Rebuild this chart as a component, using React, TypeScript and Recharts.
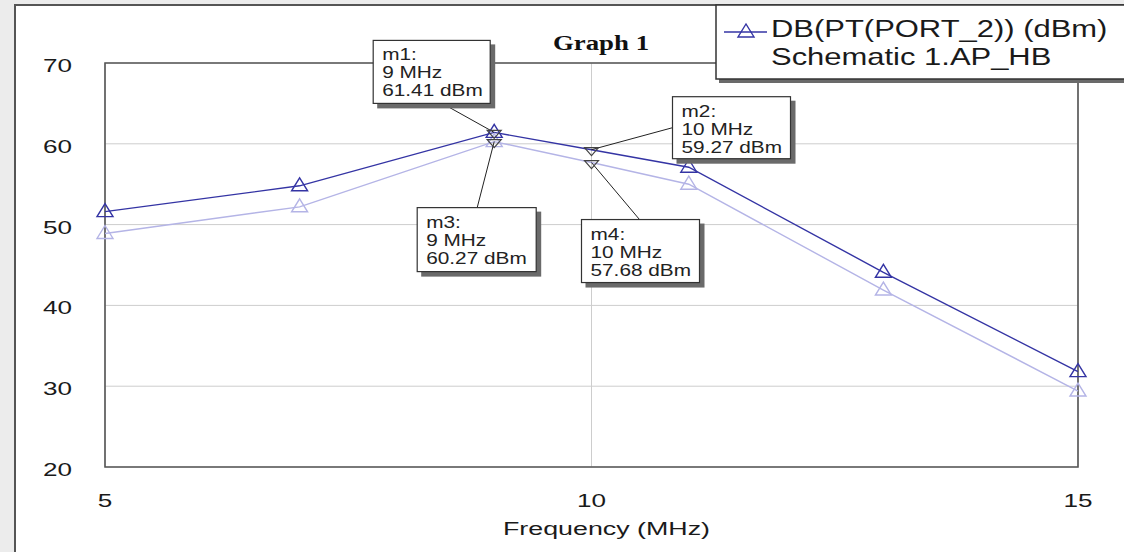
import React from 'react';
import {
  LineChart,
  Line,
  XAxis,
  YAxis,
  CartesianGrid,
  ReferenceArea,
  ReferenceDot,
} from 'recharts';

// frequency points (MHz) and the two traces of DB(PT(PORT_2)) in dBm
const FREQS = [5, 7, 9, 10, 11, 13, 15];
const TRACE_A = [51.6, 54.8, 61.41, 59.27, 57.1, 44.1, 31.8];
const TRACE_B = [48.9, 52.2, 60.27, 57.68, 55.0, 41.9, 29.4];
// frequencies where the trace shows no symbol
const NO_SYMBOL = [10];

const X_TICKS = [5, 10, 15];
const Y_TICKS = [20, 30, 40, 50, 60, 70];

const MARKER_NAMES = ['m1', 'm2', 'm3', 'm4'];
const MARKER_FREQS = [9, 10, 9, 10];
const MARKER_VALUES = [61.41, 59.27, 60.27, 57.68];

// box offsets from the marked point, and where the leader leaves the box
const MARKER_BOXES = [
  { dx: -121, dy: -92, w: 117, h: 63, ax: 69, ay: 63 },
  { dx: 81, dy: -53, w: 118, h: 62, ax: 0, ay: 31 },
  { dx: -77, dy: 66, w: 119, h: 64, ax: 60, ay: 0 },
  { dx: -10, dy: 57, w: 118, h: 63, ax: 58, ay: 0 },
];

const data = FREQS.map((f, i) => ({ freq: f, a: TRACE_A[i], b: TRACE_B[i] }));

const DARK = '#3434a4';
const LIGHT = '#b4b4e6';
const SANS = '"Liberation Sans", Arial, sans-serif';
const W = 1124;
const H = 552;

function triangleUp(cx: number, cy: number, color: string, key?: any) {
  return (
    <polygon
      key={key}
      points={`${cx - 8},${cy + 5} ${cx + 8},${cy + 5} ${cx},${cy - 8}`}
      fill="none"
      stroke={color}
      strokeWidth={1.4}
    />
  );
}

const makeDot = (color: string) => (props: any) => {
  const { cx, cy, index, payload } = props;
  if (NO_SYMBOL.includes(payload.freq)) return <g key={index} />;
  return triangleUp(cx, cy, color, index);
};

function YTick(props: any) {
  const { x, y, payload } = props;
  return (
    <text
      x={0}
      y={0}
      transform={`translate(${x},${y + 9}) scale(1.45,1)`}
      textAnchor="end"
      fontSize={18}
      fontFamily={SANS}
      fill="#1a1a1a"
    >
      {payload.value}
    </text>
  );
}

function XTick(props: any) {
  const { x, y, payload } = props;
  return (
    <text
      x={0}
      y={0}
      transform={`translate(${x},${y}) scale(1.45,1)`}
      textAnchor="middle"
      fontSize={18}
      fontFamily={SANS}
      fill="#1a1a1a"
    >
      {payload.value}
    </text>
  );
}

function XLabel(props: any) {
  const { viewBox } = props;
  const cx = viewBox.x + viewBox.width / 2 + 15;
  return (
    <text
      x={0}
      y={0}
      transform={`translate(${cx},${viewBox.y + 68}) scale(1.45,1)`}
      textAnchor="middle"
      fontSize={18.5}
      fontFamily={SANS}
      fill="#1a1a1a"
    >
      Frequency (MHz)
    </text>
  );
}

const makeMarker = (i: number) => (props: any) => {
  const { cx, cy } = props;
  const box = MARKER_BOXES[i];
  const bx = cx + box.dx;
  const by = cy + box.dy;
  const lines = [
    `${MARKER_NAMES[i]}:`,
    `${MARKER_FREQS[i]} MHz`,
    `${MARKER_VALUES[i].toFixed(2)} dBm`,
  ];
  return (
    <g>
      <line x1={bx + box.ax} y1={by + box.ay} x2={cx} y2={cy} stroke="#222" strokeWidth={1} />
      <polygon
        points={`${cx - 7},${cy - 2} ${cx + 7},${cy - 2} ${cx},${cy + 6}`}
        fill="none"
        stroke="#444"
        strokeWidth={1.2}
      />
      <rect x={bx + 4} y={by + 4} width={box.w + 1} height={box.h + 1} fill="#6a6a6a" />
      <rect x={bx} y={by} width={box.w} height={box.h} fill="#fff" stroke="#333" strokeWidth={1.2} />
      {lines.map((t, k) => (
        <text
          key={k}
          x={0}
          y={0}
          transform={`translate(${bx + 9},${by + 20 + k * 18}) scale(1.3,1)`}
          fontSize={16}
          fontFamily={SANS}
          fill="#222"
        >
          {t}
        </text>
      ))}
    </g>
  );
};

function Overlay() {
  return (
    <svg
      width={W}
      height={H}
      style={{ position: 'absolute', left: 0, top: 0, pointerEvents: 'none' }}
    >
      <text
        x={0}
        y={0}
        transform="translate(601,50) scale(1.22,1)"
        textAnchor="middle"
        fontSize={22}
        fontWeight="bold"
        fontFamily='"Liberation Serif", "Times New Roman", serif'
        fill="#111"
      >
        Graph 1
      </text>
      <rect x={719} y={8} width={420} height={75} fill="#6a6a6a" />
      <rect x={716} y={5} width={420} height={74} fill="#fff" stroke="#333" strokeWidth={1.5} />
      <line x1={724} y1={32} x2={767} y2={32} stroke={DARK} strokeWidth={1.3} />
      {triangleUp(746, 32, DARK)}
      <text x={0} y={0} transform="translate(771,37) scale(1.29,1)" fontSize={24} fontFamily={SANS} fill="#1a1a1a">
        DB(PT(PORT_2)) (dBm)
      </text>
      <text x={0} y={0} transform="translate(771,65) scale(1.29,1)" fontSize={24} fontFamily={SANS} fill="#1a1a1a">
        Schematic 1.AP_HB
      </text>
    </svg>
  );
}

export default function App() {
  return (
    <div style={{ position: 'absolute', left: 0, top: 0, width: W, height: H, background: '#ececec', overflow: 'hidden' }}>
      <div
        style={{
          position: 'absolute',
          left: 14,
          top: 4,
          width: W,
          height: H,
          background: '#fff',
          borderLeft: '2px solid #555',
          borderTop: '2px solid #555',
        }}
      />
      <div style={{ position: 'absolute', left: 0, top: 0 }}>
        <LineChart width={W} height={H} data={data} margin={{ top: 63, right: 46, bottom: 55, left: 45 }}>
          <CartesianGrid stroke="#cdcdcd" strokeWidth={1} />
          <XAxis
            dataKey="freq"
            type="number"
            domain={[5, 15]}
            ticks={X_TICKS}
            axisLine={false}
            tickLine={false}
            tickSize={0}
            tickMargin={40}
            height={30}
            tick={<XTick />}
            label={<XLabel />}
            interval={0}
          />
          <YAxis
            type="number"
            domain={[20, 70]}
            ticks={Y_TICKS}
            axisLine={false}
            tickLine={false}
            tickSize={0}
            tickMargin={33}
            width={60}
            tick={<YTick />}
            interval={0}
          />
          <ReferenceArea x1={5} x2={15} y1={20} y2={70} fill="none" stroke="#555" strokeWidth={1.6} />
          <Line
            dataKey="b"
            stroke={LIGHT}
            strokeWidth={1.4}
            dot={makeDot(LIGHT)}
            isAnimationActive={false}
          />
          <Line
            dataKey="a"
            stroke={DARK}
            strokeWidth={1.4}
            dot={makeDot(DARK)}
            isAnimationActive={false}
          />
          {MARKER_NAMES.map((n, i) => (
            <ReferenceDot
              key={n}
              x={MARKER_FREQS[i]}
              y={MARKER_VALUES[i]}
              r={0}
              ifOverflow="visible"
              shape={makeMarker(i)}
            />
          ))}
        </LineChart>
      </div>
      <Overlay />
    </div>
  );
}
